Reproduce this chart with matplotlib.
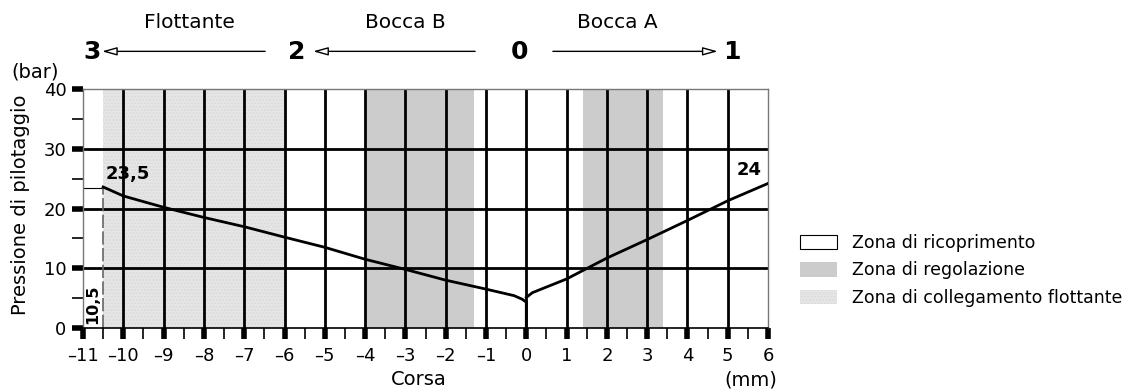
import matplotlib.pyplot as plt
import matplotlib.transforms as mtransforms
from matplotlib.patches import Patch
import numpy as np

plt.rcParams['font.family'] = ['DejaVu Sans']

# curve: pressure vs stroke
left_x = [-10.5, -10, -9, -8, -7, -6, -5, -4, -3, -2, -1, -0.3, -0.1, 0, 0]
left_y = [23.6, 22.1, 20.2, 18.5, 16.95, 15.2, 13.5, 11.5, 9.8, 8.0, 6.5, 5.4, 4.8, 4.3, 0]
right_x = [0, 0.15, 1, 2, 3, 4, 5, 6]
right_y = [5.1, 5.9, 8.2, 11.7, 14.8, 18.0, 21.3, 24.2]

# zones
float_zone = (-10.5, -6)
reg_zones = [(-4, -1.3), (1.4, 3.4)]

x_ticks = list(range(-11, 7))
y_ticks = [0, 10, 20, 30, 40]

top_points = [(-10.78, '3'), (-5.71, '2'), (-0.18, '0'), (5.1, '1')]
top_arrows = [(-6.48, -10.53), (-1.27, -5.29), (0.66, 4.75)]
top_labels = [(-8.37, 'Flottante'), (-3.0, 'Bocca B'), (2.26, 'Bocca A')]
legend_labels = ['Zona di ricoprimento', 'Zona di regolazione', 'Zona di collegamento flottante']

fig = plt.figure(figsize=(11.33, 3.89), dpi=100)
ax = fig.add_axes([0.0733, 0.157, 0.6046, 0.614])
ax.set_xlim(-11, 6)
ax.set_ylim(0, 40)

ax.axvspan(*float_zone, facecolor='#e6e6e6', edgecolor='#dadada', hatch='.....', lw=0, zorder=0)
for a, b in reg_zones:
    ax.axvspan(a, b, facecolor='#cccccc', lw=0, zorder=0)

for x in range(-10, 6):
    ax.axvline(x, color='black', lw=2, zorder=1)
for y in [10, 20, 30]:
    ax.axhline(y, color='black', lw=2, zorder=1)

ax.plot(left_x, left_y, color='black', lw=2, zorder=3, solid_joinstyle='round')
ax.plot(right_x, right_y, color='black', lw=2, zorder=3, solid_joinstyle='round')

# 23,5 / 10,5 markers
ax.plot([-11, -10.5], [23.5, 23.5], color='black', lw=0.8, zorder=2)
ax.plot([-10.5, -10.5], [0, 23.5], color='#666666', lw=1.2, ls=(0, (8, 2)), zorder=2)
ax.text(-10.45, 24.2, '23,5', fontsize=13, fontweight='bold', ha='left', va='bottom')
ax.text(-10.76, 0.6, '10,5', fontsize=11.5, fontweight='bold', rotation=90, ha='center', va='bottom')
ax.text(5.85, 24.9, '24', fontsize=13, fontweight='bold', ha='right', va='bottom')

for s in ['left', 'top', 'right']:
    ax.spines[s].set_color('#777777')
    ax.spines[s].set_linewidth(1)
ax.spines['bottom'].set_color('black')
ax.spines['bottom'].set_linewidth(1.2)

ax.set_xticks(x_ticks)
ax.set_xticklabels([str(t).replace('-', '\u2013') for t in x_ticks], fontsize=13)
ax.set_xticks(np.arange(-10.5, 6, 1), minor=True)
ax.set_yticks(y_ticks)
ax.set_yticklabels([str(t) for t in y_ticks], fontsize=13)
ax.set_yticks([5, 15, 25, 35], minor=True)
ax.tick_params(axis='both', which='major', length=8, width=4, color='black', pad=4)
ax.tick_params(axis='x', which='major', pad=6)
ax.tick_params(axis='both', which='minor', length=8, width=1.2, color='black')

ax.set_ylabel('Pressione di pilotaggio', fontsize=14, va='center')
ax.yaxis.set_label_coords(-0.092, 0.515)

# text placed by data x and figure y
trans = mtransforms.blended_transform_factory(ax.transData, fig.transFigure)
ax.text(-2.66, 0.01, 'Corsa', transform=trans, fontsize=14, ha='center', va='baseline')
ax.text(6.22, 0.01, '(mm)', transform=trans, fontsize=14, ha='right', va='baseline')
fig.text(0.031, 0.815, '(bar)', fontsize=14, ha='center', va='center')

# direction arrows above the plot
for x, s in top_points:
    ax.text(x, 0.866, s, transform=trans, fontsize=18, fontweight='bold', ha='center', va='center')
for x, s in top_labels:
    ax.text(x, 0.943, s, transform=trans, fontsize=14.5, ha='center', va='center')
for x0, x1 in top_arrows:
    ax.annotate('', xy=(x1, 0.868), xytext=(x0, 0.868), xycoords=trans, textcoords=trans,
                arrowprops=dict(arrowstyle='-|>,head_length=0.9,head_width=0.25', lw=1,
                                edgecolor='black', facecolor='white', shrinkA=0, shrinkB=0),
                annotation_clip=False)

handles = [Patch(facecolor='white', edgecolor='black', lw=0.8),
           Patch(facecolor='#cccccc', edgecolor='none'),
           Patch(facecolor='#e6e6e6', edgecolor='#dadada', hatch='.....', lw=0)]
fig.legend(handles, legend_labels, loc='center left', bbox_to_anchor=(0.692, 0.305),
           frameon=False, fontsize=12.5, handlelength=2.15, handleheight=0.9,
           labelspacing=0.55, handletextpad=0.85)

fig.savefig('out.png', dpi=100)
